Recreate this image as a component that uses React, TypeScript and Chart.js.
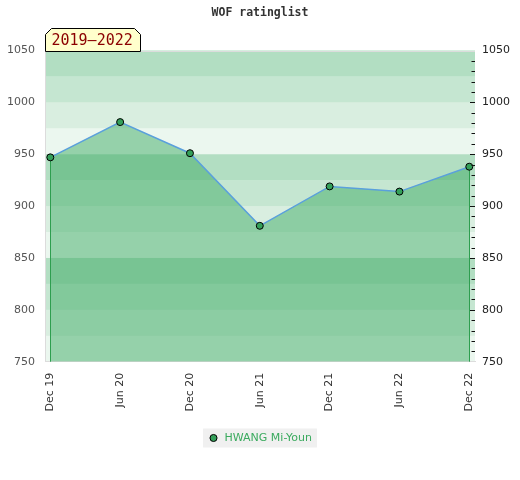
import React, { useEffect, useRef } from "react";
import { Chart, registerables } from "chart.js";

Chart.register(...registerables);

const chartTitle = "WOF ratinglist";
const periodLabel = "2019–2022";
const playerName = "HWANG Mi-Youn";
const dates = ["Dec 19", "Jun 20", "Dec 20", "Jun 21", "Dec 21", "Jun 22", "Dec 22"];
const ratings = [947, 981, 951, 881, 919, 914, 938];
const yMin = 750;
const yMax = 1050;

export default function App() {
  const ref = useRef<HTMLCanvasElement>(null);

  useEffect(() => {
    document.body.style.margin = "0";
    const canvas = ref.current!;
    const pointGreen = "#34a05a";
    const edgeGreen = "#2e9e4f";
    const legendGreen = "#3aaa5e";
    const axisFont = { family: "'DejaVu Sans'", size: 11 };

    const decor = {
      id: "decor",
      beforeDraw(chart: any) {
        const { ctx, chartArea: a, scales } = chart;
        const y = scales.y;
        const alphas = [0.4, 0.3, 0.2, 0.1];
        ctx.save();
        let i = 0;
        for (let v = y.max; v > y.min; v -= 25) {
          const top = y.getPixelForValue(v);
          const bot = y.getPixelForValue(v - 25);
          ctx.fillStyle = `rgba(63,172,102,${alphas[i % 4]})`;
          ctx.fillRect(a.left, top, a.right - a.left, bot - top);
          i++;
        }
        ctx.strokeStyle = "#dcdcdc";
        ctx.lineWidth = 1;
        ctx.beginPath();
        ctx.moveTo(a.left, Math.round(a.top) + 0.5);
        ctx.lineTo(a.right, Math.round(a.top) + 0.5);
        ctx.stroke();
        const hb = chart.legend && chart.legend.legendHitBoxes && chart.legend.legendHitBoxes[0];
        if (hb) {
          ctx.fillStyle = "#f0f0f0";
          ctx.fillRect(hb.left - 5, hb.top - 4, hb.width + 10, hb.height + 8);
        }
        ctx.restore();
      },
      beforeDatasetDraw(chart: any, args: any) {
        const { ctx, chartArea: a } = chart;
        const pts = args.meta.data;
        if (!pts.length) return;
        ctx.save();
        ctx.strokeStyle = edgeGreen;
        ctx.lineWidth = 1;
        for (const p of [pts[0], pts[pts.length - 1]]) {
          const x = Math.round(p.x) + 0.5;
          ctx.beginPath();
          ctx.moveTo(x, p.y);
          ctx.lineTo(x, a.bottom);
          ctx.stroke();
        }
        ctx.restore();
      },
      afterDraw(chart: any) {
        const { ctx, chartArea: a, scales } = chart;
        const y2 = scales.y2;
        ctx.save();
        ctx.strokeStyle = "#111";
        ctx.lineWidth = 1;
        for (let v = y2.min + 10; v < y2.max; v += 10) {
          const py = Math.round(y2.getPixelForValue(v)) + 0.5;
          const len = v % 50 === 0 ? 5 : 3.5;
          ctx.beginPath();
          ctx.moveTo(a.right - len, py);
          ctx.lineTo(a.right, py);
          ctx.stroke();
        }
        // period label box
        const L = Math.round(a.left) + 0.5;
        const R = L + 95;
        const B = Math.round(a.top) + 0.5;
        const T = B - 23;
        const c = 6;
        ctx.beginPath();
        ctx.moveTo(L, B);
        ctx.lineTo(L, T + c);
        ctx.lineTo(L + c, T);
        ctx.lineTo(R - c, T);
        ctx.lineTo(R, T + c);
        ctx.lineTo(R, B);
        ctx.closePath();
        ctx.fillStyle = "#ffffcc";
        ctx.fill();
        ctx.strokeStyle = "#000";
        ctx.stroke();
        ctx.fillStyle = "#8b0000";
        ctx.font = "15px 'DejaVu Sans Mono'";
        ctx.textBaseline = "middle";
        ctx.textAlign = "left";
        ctx.fillText(periodLabel, L + 6, (T + B) / 2 + 1);
        ctx.restore();
      },
    };

    const chart = new Chart(canvas, {
      type: "line",
      data: {
        datasets: [
          {
            label: playerName,
            data: ratings.map((r, i) => ({ x: i, y: r })),
            borderColor: "rgb(90,160,220)",
            borderWidth: 1.5,
            backgroundColor: "rgba(63,172,102,0.5)",
            fill: "start",
            tension: 0,
            pointRadius: 3.5,
            pointBackgroundColor: pointGreen,
            pointBorderColor: "#000",
            pointBorderWidth: 1,
            xAxisID: "x",
            yAxisID: "y",
          },
        ],
      },
      options: {
        animation: false,
        responsive: false,
        devicePixelRatio: 1,
        layout: { padding: { left: 0, right: 0, top: 0, bottom: 26.5 } },
        plugins: {
          title: {
            display: true,
            text: chartTitle,
            color: "#333",
            font: { family: "'DejaVu Sans Mono'", size: 11.5, weight: "bold" },
            padding: { top: 6.4, bottom: 30.3 },
          },
          legend: {
            position: "bottom",
            labels: {
              usePointStyle: true,
              boxWidth: 15,
              boxHeight: 5,
              color: legendGreen,
              font: axisFont,
              generateLabels: () => [
                {
                  text: playerName,
                  fillStyle: pointGreen,
                  strokeStyle: "#000",
                  lineWidth: 1,
                  pointStyle: "circle",
                  fontColor: legendGreen,
                  datasetIndex: 0,
                } as any,
              ],
            },
          },
          tooltip: { enabled: false },
        },
        scales: {
          x: {
            type: "linear",
            min: -0.076,
            max: 6.082,
            afterBuildTicks: (s: any) => {
              s.ticks = dates.map((_, i) => ({ value: i }));
            },
            ticks: {
              callback: (v: any) => dates[v],
              minRotation: 90,
              maxRotation: 90,
              padding: 11,
              color: "#333",
              font: axisFont,
            },
            grid: { display: false, drawTicks: false },
            border: { color: "#dcdcdc" },
          },
          y: {
            position: "left",
            min: yMin,
            max: yMax,
            ticks: { stepSize: 50, padding: 10, color: "#555", font: axisFont, callback: (v: any) => String(v) },
            grid: { display: false, drawTicks: false },
            border: { color: "#dcdcdc" },
            afterFit: (s: any) => {
              s.width = 45;
            },
          },
          y2: {
            position: "right",
            min: yMin,
            max: yMax,
            ticks: { stepSize: 50, padding: 7, color: "#222", font: axisFont, callback: (v: any) => String(v) },
            grid: { display: false, drawTicks: false },
            border: { display: false },
            afterFit: (s: any) => {
              s.width = 45;
            },
          },
        },
      } as any,
      plugins: [decor],
    });
    return () => chart.destroy();
  }, []);

  return <canvas ref={ref} width={520} height={480} style={{ display: "block" }} />;
}
